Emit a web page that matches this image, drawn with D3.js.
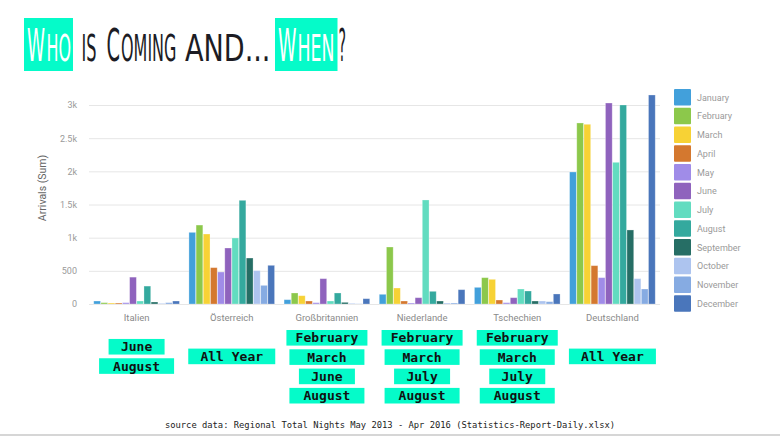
<!DOCTYPE html>
<html>
<head>
<meta charset="utf-8">
<script src="https://cdn.jsdelivr.net/npm/d3@7"></script>
<style>
  html, body { margin: 0; padding: 0; background: #fff; }
  svg { display: block; }
</style>
</head>
<body>
<script>
// ---------- DATA ----------
const categories = ["Italien", "Österreich", "Großbritannien", "Niederlande", "Tschechien", "Deutschland"];
const months = ["January", "February", "March", "April", "May", "June", "July", "August", "September", "October", "November", "December"];

const italien        = [45, 20, 15, 15, 20, 405, 45, 270, 30, 10, 20, 45];
const oesterreich    = [1080, 1190, 1055, 548, 482, 844, 995, 1563, 693, 503, 281, 583];
const grossbritannien= [65, 166, 125, 45, 20, 382, 45, 166, 25, 10, 3, 80];
const niederlande    = [146, 859, 241, 45, 15, 95, 1568, 191, 45, 15, 15, 216];
const tschechien     = [251, 397, 372, 60, 20, 95, 226, 196, 45, 45, 35, 151];
const deutschland    = [1990, 2729, 2709, 578, 397, 3030, 2136, 3000, 1116, 382, 226, 3151];

const yTicks = [0, 500, 1000, 1500, 2000, 2500, 3000];
const yTickLabels = ["0", "500", "1k", "1.5k", "2k", "2.5k", "3k"];

const peakMonths = [
  ["June", "August"],
  ["All Year"],
  ["February", "March", "June", "August"],
  ["February", "March", "July", "August"],
  ["February", "March", "July", "August"],
  ["All Year"]
];

const monthColors = ["#42a0db", "#8cc84b", "#f7d235", "#d4782f", "#a08ce8", "#8f63bd",
                     "#62dcc0", "#34a99e", "#266e65", "#adc4ef", "#86abe2", "#4a76bb"];

const sourceText = "source data: Regional Total Nights May 2013 - Apr 2016 (Statistics-Report-Daily.xlsx)";

// ---------- BUILD ----------
const seriesByCountry = [italien, oesterreich, grossbritannien, niederlande, tschechien, deutschland];
const table = categories.map((c, i) => ({ country: c, values: seriesByCountry[i] }));

const W = 780, H = 436;
const svg = d3.select("body").append("svg").attr("width", W).attr("height", H);
svg.append("rect").attr("width", W).attr("height", H).attr("fill", "#fff");

const cyan = "#05fbc9";

// ---------- TITLE (small caps drawn as separate pieces, squeezed horizontally) ----------
function titlePiece(txt, xa, xb, big, col) {
  const t = svg.append("text")
    .attr("x", 0).attr("y", 0)
    .attr("fill", col)
    .attr("font-size", big ? 45 : 37.5)
    .style("font-family", "'Liberation Sans Narrow', 'DejaVu Sans Condensed', 'Liberation Sans', sans-serif")
    .text(txt);
  const len = t.node().getComputedTextLength() || 1;
  const sx = (xb - xa) / len;
  t.attr("transform", `translate(${xa},61) scale(${sx},1)`);
}
const ink = "#1c1c24";
svg.append("rect").attr("x", 24).attr("y", 18).attr("width", 49).attr("height", 53).attr("fill", cyan);
svg.append("rect").attr("x", 275).attr("y", 18).attr("width", 62.5).attr("height", 53).attr("fill", cyan);
titlePiece("W", 27, 45, true, "#fff");
titlePiece("HO", 46.5, 71, false, "#fff");
titlePiece("IS", 81.5, 96.5, false, ink);
titlePiece("C", 106.5, 120, true, ink);
titlePiece("OMING", 121, 176.5, false, ink);
titlePiece("AND...", 185, 270.5, false, ink);
titlePiece("W", 278, 296.5, true, "#fff");
titlePiece("HEN", 297.5, 334.5, false, "#fff");
titlePiece("?", 338.5, 346, true, ink);

// ---------- SCALES ----------
const plotLeft = 89, plotRight = 660;
const y0px = 304;
const y = d3.scaleLinear().domain([0, 3000]).range([y0px, 105]);
const x0 = d3.scaleBand().domain(categories).range([plotLeft, plotRight]).paddingInner(0.1).paddingOuter(0.05);
const x1 = d3.scaleBand().domain(months).range([0, x0.bandwidth()]).paddingInner(0.06);
const color = d3.scaleOrdinal().domain(months).range(monthColors);

// ---------- GRID ----------
const yAxis = d3.axisLeft(y).tickValues(yTicks)
  .tickFormat((d, i) => yTickLabels[i])
  .tickSize(-(plotRight - plotLeft)).tickPadding(12);
const gy = svg.append("g").attr("transform", `translate(${plotLeft},0)`).call(yAxis);
gy.select(".domain").remove();
gy.selectAll(".tick line").attr("stroke", "#e6e6e6").attr("stroke-width", 1);
gy.selectAll(".tick text").attr("fill", "#9a9a9a").style("font-family", "Roboto, sans-serif").style("font-size", "9px");

svg.append("text")
  .attr("transform", `translate(46,188) rotate(-90)`)
  .attr("text-anchor", "middle")
  .attr("fill", "#666")
  .style("font-family", "Roboto, sans-serif").style("font-size", "10.5px")
  .text("Arrivals (Sum)");

// ---------- BARS ----------
const groups = svg.append("g").selectAll("g").data(table).join("g")
  .attr("transform", d => `translate(${x0(d.country)},0)`);
groups.selectAll("rect").data(d => d.values.map((v, i) => ({ month: months[i], value: v })))
  .join("rect")
  .attr("x", d => x1(d.month))
  .attr("y", d => y(d.value))
  .attr("width", x1.bandwidth())
  .attr("height", d => y0px - y(d.value))
  .attr("fill", d => color(d.month))
  .attr("stroke", "#fff").attr("stroke-opacity", 0.35).attr("stroke-width", 0.8);

// ---------- X AXIS ----------
const xAxis = d3.axisBottom(x0).tickSize(0).tickPadding(10);
const gx = svg.append("g").attr("transform", `translate(0,${y0px})`).call(xAxis);
gx.select(".domain").remove();
gx.selectAll(".tick text").attr("fill", "#8a8a8a").style("font-family", "Roboto, sans-serif").style("font-size", "9.5px");

// ---------- LEGEND ----------
const legend = svg.append("g").selectAll("g").data(months).join("g")
  .attr("transform", (d, i) => `translate(674,${89 + i * 18.75})`);
legend.append("rect").attr("width", 17).attr("height", 16.5).attr("rx", 1).attr("fill", d => color(d));
legend.append("text").attr("x", 23).attr("y", 8.5).attr("dy", "0.35em")
  .attr("fill", "#9a9a9a").style("font-family", "Roboto, sans-serif").style("font-size", "9px")
  .text(d => d);

// ---------- PEAK MONTH BOXES ----------
const boxWidth = { "June": 56, "July": 56, "March": 75, "August": 75, "February": 81, "All Year": 87 };
const rowStep = 19.3, boxH = 15.6;
peakMonths.forEach((list, ci) => {
  const cx = x0(categories[ci]) + x0.bandwidth() / 2;
  const n = list.length;
  const top = n > 2 ? 330 : 356.4 - (n * rowStep - (rowStep - boxH)) / 2;
  list.forEach((m, j) => {
    const w = boxWidth[m] || (m.length * 8 + 18);
    const yy = top + j * rowStep;
    svg.append("rect").attr("x", cx - w / 2).attr("y", yy).attr("width", w).attr("height", boxH).attr("fill", cyan);
    svg.append("text").attr("x", cx).attr("y", yy + boxH / 2).attr("dy", "0.36em")
      .attr("text-anchor", "middle").attr("fill", "#111")
      .style("font-family", "'DejaVu Sans Mono', monospace").style("font-weight", "bold").style("font-size", "13px")
      .text(m);
  });
});

// ---------- SOURCE ----------
svg.append("text").attr("x", 390).attr("y", 428).attr("text-anchor", "middle")
  .attr("fill", "#222")
  .style("font-family", "'DejaVu Sans Mono', monospace").style("font-size", "8.8px")
  .text(sourceText);
svg.append("rect").attr("x", 0).attr("y", 434).attr("width", W).attr("height", 2).attr("fill", "#d6d6d6");
</script>
</body>
</html>
